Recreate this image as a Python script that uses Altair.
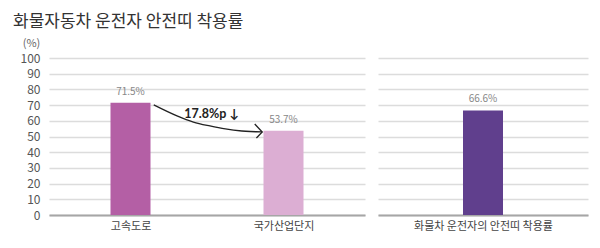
import altair as alt
import pandas as pd

FONT = "Noto Sans CJK KR"

title_text = "화물자동차 운전자 안전띠 착용률"
left_categories = ["고속도로", "국가산업단지"]
left_values = [71.5, 53.7]
left_colors = ["#b45fa5", "#dcaed3"]
right_categories = ["화물차 운전자의 안전띠 착용률"]
right_values = [66.6]
right_colors = ["#603f8d"]
y_ticks = [0, 10, 20, 30, 40, 50, 60, 70, 80, 90, 100]
annotation_text = "17.8%p ↓"
# annotation curve (x in category units, y in %)
curve_x = [0.652, 0.804, 0.911, 1.019, 1.120, 1.228, 1.361]
curve_y = [70.1, 63.1, 59.2, 56.7, 54.8, 53.5, 52.9]
head_x = [1.312, 1.361, 1.323]
head_y = [58.0, 52.9, 49.0]
annot_pos = [1.03, 64.3]

left_df = pd.DataFrame({
    "cat": left_categories,
    "pos": [i + 0.5 for i in range(len(left_categories))],
    "val": left_values,
    "color": left_colors,
    "label": [f"{v}%" for v in left_values],
})
right_df = pd.DataFrame({
    "cat": right_categories,
    "pos": [i + 0.5 for i in range(len(right_categories))],
    "val": right_values,
    "color": right_colors,
    "label": [f"{v}%" for v in right_values],
})
curve_df = pd.DataFrame({"x": curve_x, "y": curve_y, "o": list(range(len(curve_x)))})
head_df = pd.DataFrame({"x": head_x, "y": head_y, "o": list(range(len(head_x)))})
annot_df = pd.DataFrame({"x": [annot_pos[0]], "y": [annot_pos[1]], "t": [annotation_text]})

H = 157


def label_expr(cats):
    parts = " : ".join([f"datum.value == {i + 0.5} ? '{c}'" for i, c in enumerate(cats)])
    return parts + " : ''"


def axes(cats, show_y):
    n = len(cats)
    xaxis = alt.Axis(
        values=[i + 0.5 for i in range(n)], labelExpr=label_expr(cats), title=None,
        grid=False, gridColor="transparent", ticks=False, domain=True, domainColor="#a6a6a6",
        domainWidth=2, labelFont=FONT, labelFontSize=11, labelColor="#444444", labelPadding=5,
    )
    common = dict(
        values=y_ticks, tickCount=11, grid=True, gridColor="#dcdcdc", gridWidth=1.3,
        ticks=False, tickColor="transparent", tickSize=0,
        domain=False, domainColor="transparent", domainWidth=0,
    )
    if show_y:
        yaxis = alt.Axis(
            labelOverlap=False, title="(%)", titleAngle=0,
            titleFont=FONT, titleFontSize=11,
            titleFontWeight="normal", titleColor="#666666", titleX=-18, titleY=-10,
            titleAlign="center", titleBaseline="bottom",
            labelFont=FONT, labelFontSize=12, labelColor="#555555", labelPadding=9,
            **common,
        )
    else:
        yaxis = alt.Axis(labels=False, title=None, **common)
    return xaxis, yaxis


def panel(df, cats, show_y):
    n = len(cats)
    xscale = alt.Scale(domain=[0, n], nice=False, zero=False)
    yscale = alt.Scale(domain=[0, 100], nice=False)
    xaxis, yaxis = axes(cats, show_y)
    base = alt.Chart(df)
    bars = base.mark_bar(size=40).encode(
        x=alt.X("pos:Q", scale=xscale, axis=xaxis),
        y=alt.Y("val:Q", scale=yscale, axis=yaxis),
        color=alt.Color("color:N", scale=None),
    )
    texts = base.mark_text(font=FONT, fontSize=10, color="#888888", dy=-6, baseline="bottom").encode(
        x=alt.X("pos:Q", axis=xaxis), y=alt.Y("val:Q", axis=yaxis), text="label:N"
    )
    return [bars, texts]


lxa, lya = axes(left_categories, True)
left_layers = panel(left_df, left_categories, True)
curve = alt.Chart(curve_df).mark_line(interpolate="monotone", color="#222222", strokeWidth=1.3).encode(
    x=alt.X("x:Q", axis=lxa), y=alt.Y("y:Q", axis=lya), order="o:Q"
)
head = alt.Chart(head_df).mark_line(color="#222222", strokeWidth=1.3).encode(
    x=alt.X("x:Q", axis=lxa), y=alt.Y("y:Q", axis=lya), order="o:Q"
)
annot = alt.Chart(annot_df).mark_text(font="Lato, Noto Sans CJK KR", fontSize=12.5, fontWeight="bold",
                                      color="#222222").encode(
    x=alt.X("x:Q", axis=lxa), y=alt.Y("y:Q", axis=lya), text="t:N"
)
left = alt.layer(*left_layers, curve, head, annot).properties(width=316, height=H)

right_layers = panel(right_df, right_categories, False)
right = alt.layer(*right_layers).properties(width=210, height=H)

chart = (
    alt.hconcat(left, right, spacing=13)
    .properties(
        title=alt.TitleParams(title_text, anchor="start", font=FONT, fontSize=17, fontWeight="normal",
                              color="#333333", offset=6, frame="bounds", dx=-7),
        padding={"left": 13, "top": 13, "right": 5, "bottom": 5},
        background="white",
    )
    .configure_view(strokeWidth=0, stroke="transparent")
    .configure_axisY(domain=False, domainColor="transparent")
    .configure_axisLeft(domain=False, domainColor="transparent")
)

chart.save("out.html", embed_options={"renderer": "svg", "actions": False})
